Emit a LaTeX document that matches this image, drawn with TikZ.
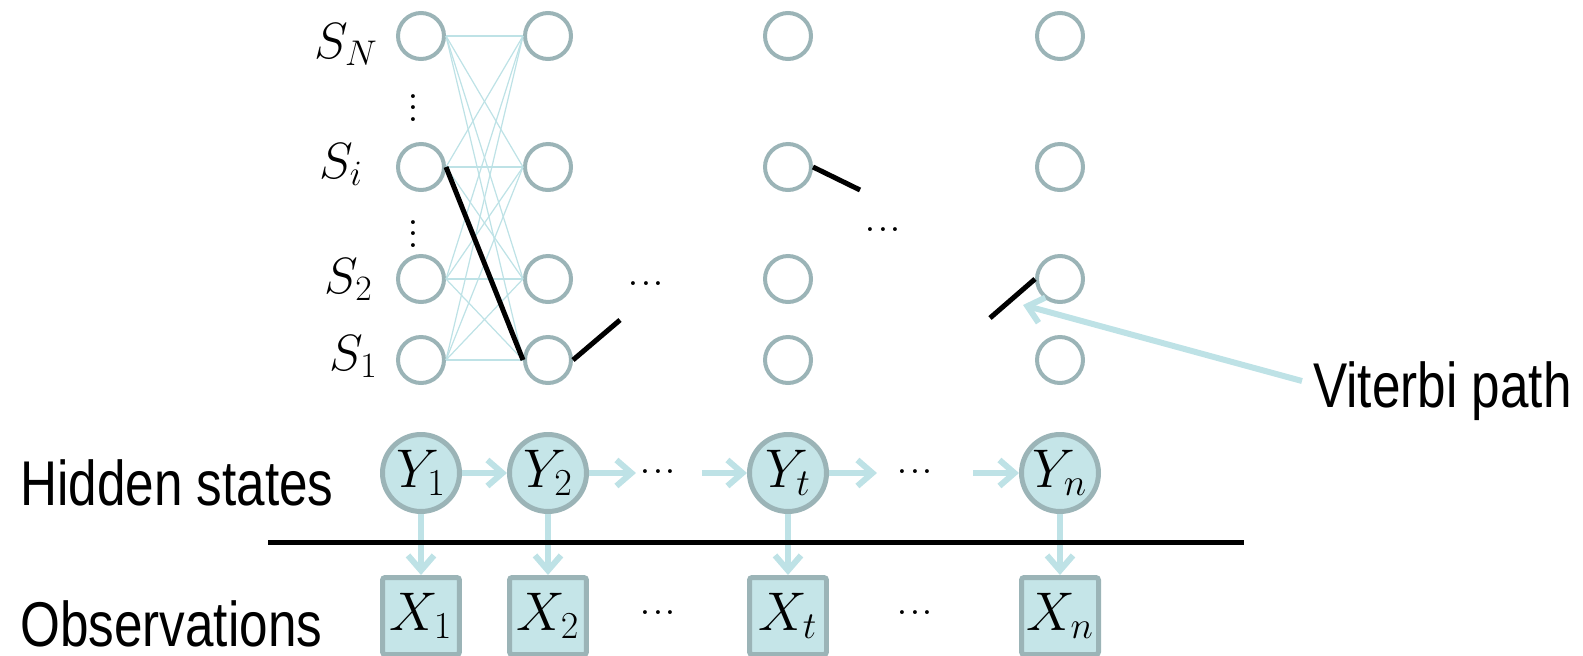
\RequirePackage{fix-cm}
\documentclass[tikz,border=0pt]{standalone}
\usepackage{fontspec}
\newfontfamily\narrowsans[FakeStretch=0.81]{Liberation Sans}
\usetikzlibrary{arrows.meta}

\definecolor{ringgray}{HTML}{9BB4B7}
\definecolor{paleteal}{HTML}{C5E5E8}
\definecolor{flowteal}{HTML}{BEE2E6}

\newcommand{\lattvdots}{\vbox{\baselineskip=6.6pt\lineskiplimit=0pt\hbox{.}\hbox{.}\hbox{.}}}
\newcommand{\latthdots}{\hbox{.\kern0.4pt.\kern0.4pt.}}

\tikzset{
  state/.style={circle, draw=ringgray, line width=0.08cm, minimum size=0.92cm, inner sep=0pt},
  hidden/.style={circle, draw=ringgray, fill=paleteal, line width=0.1cm, minimum size=1.54cm, inner sep=0pt, font=\fontsize{31}{31}\selectfont},
  observed/.style={rectangle, rounded corners=1.5pt, draw=ringgray, fill=paleteal, line width=0.1cm, minimum size=1.54cm, inner sep=0pt, font=\fontsize{31}{31}\selectfont},
  statelabel/.style={anchor=base east, inner sep=0pt, font=\fontsize{29}{29}\selectfont},
  trans/.style={draw=flowteal, line width=0.7pt},
  viterbi/.style={draw=black, line width=0.1cm},
  flow/.style={draw=flowteal, line width=0.12cm, -{Straight Barb[length=0.3cm,width=0.52cm]}},
  caption/.style={anchor=base west, inner sep=0pt, font=\narrowsans\fontsize{36}{36}\selectfont},
  dots/.style={inner sep=0pt, font=\fontsize{27}{27}\selectfont}
}

\begin{document}
\begin{tikzpicture}[x=0.02cm, y=-0.02cm]

\useasboundingbox (0,0) rectangle (1583,656);

% trellis of states
\foreach \c/\px in {1/421, 2/548, 3/788, 4/1060} {
    \foreach \r/\py in {N/36, i/167, 2/279, 1/360} {
        \node[state] (s\c\r) at (\px,\py) {};
    }
}

\node[statelabel] (lN) at (378,58) {$S_N$};
\node[statelabel] (li) at (363,178) {$S_i$};
\node[statelabel] (l2) at (373,293) {$S_2$};
\node[statelabel] (l1) at (378,370) {$S_1$};

\node[dots] (vd1) at (413,108) {\lattvdots};
\node[dots] (vd2) at (413,234) {\lattvdots};

\foreach \a in {N,i,2,1} {
    \foreach \b in {N,i,2,1} {
        \draw[trans] (s1\a.east) -- (s2\b.west);
    }
}

\node[dots] (td1) at (646,284) {\latthdots};
\node[dots] (td2) at (883,230) {\latthdots};

% viterbi path
\coordinate (v1) at (620,320);
\coordinate (v2) at (860,190);
\coordinate (v3) at (990,318);
\draw[viterbi] (s1i.east) -- (s21.west);
\draw[viterbi] (s21.east) -- (v1);
\draw[viterbi] (s3i.east) -- (v2);
\draw[viterbi] (v3) -- (s42.west);

\node[caption] (vlabel) at (1313,407) {Viterbi path};
\coordinate (vtail) at (1302,381);
\coordinate (vtip) at (1023,305);
\draw[flow] (vtail) -- (vtip);

% hidden chain and observations
\foreach \k/\px in {1/421, 2/548, t/788, n/1060} {
    \node[hidden] (y\k) at (\px,473) {$Y_\k$};
    \node[observed] (x\k) at (\px,616) {$X_\k$};
    \draw[flow] (y\k.south) -- (x\k.north);
}

\node[dots] (hd1) at (658,472) {\latthdots};
\node[dots] (hd2) at (915,472) {\latthdots};
\node[dots] (od1) at (658,613) {\latthdots};
\node[dots] (od2) at (915,613) {\latthdots};

\coordinate (h1) at (636,473);
\coordinate (h2) at (702,473);
\coordinate (h3) at (877,473);
\coordinate (h4) at (973,473);
\draw[flow] (y1.east) -- (y2.west);
\draw[flow] (y2.east) -- (h1);
\draw[flow] (h2) -- (yt.west);
\draw[flow] (yt.east) -- (h3);
\draw[flow] (h4) -- (yn.west);

\coordinate (sepL) at (268,542);
\coordinate (sepR) at (1244,542);
\draw[line width=0.1cm] (sepL) -- (sepR);

\node[caption] (hlabel) at (20,505) {Hidden states};
\node[caption] (olabel) at (20,646) {Observations};

\end{tikzpicture}
\end{document}
